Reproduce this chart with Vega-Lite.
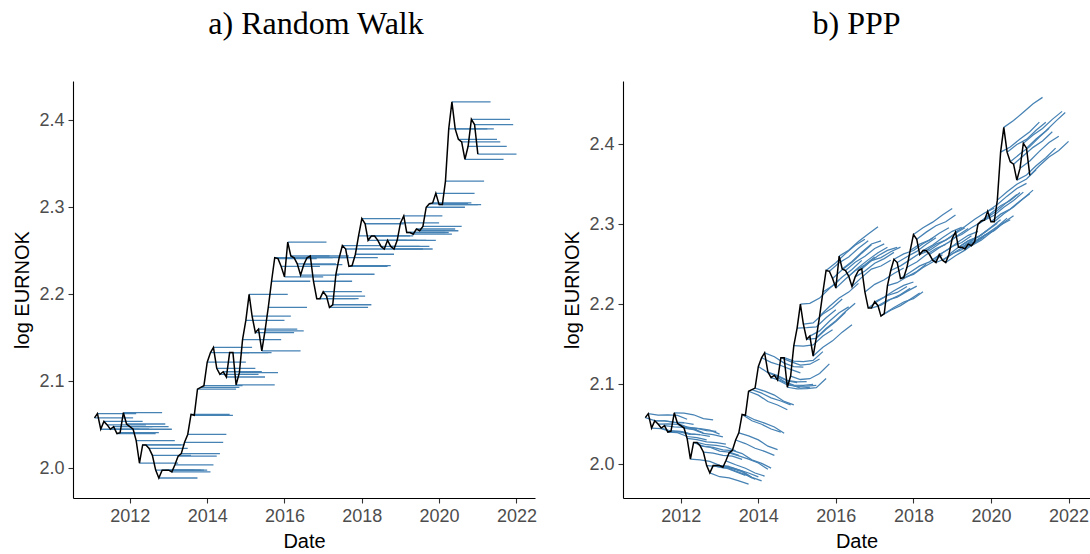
{
  "$schema": "https://vega.github.io/schema/vega-lite/v6.json",
  "background": "white",
  "padding": {"left": 12, "top": 8, "right": 0, "bottom": 0},
  "spacing": 25,
  "config": {
    "view": {"stroke": null},
    "axis": {
      "grid": false,
      "domainColor": "black",
      "domainWidth": 1.1,
      "tickColor": "#333333",
      "tickWidth": 1.1,
      "tickSize": 5,
      "labelColor": "#4D4D4D",
      "labelFont": "Liberation Sans",
      "labelFontSize": 18,
      "labelPadding": 4,
      "titleFont": "Liberation Sans",
      "titleFontSize": 20,
      "titleFontWeight": "normal",
      "titleColor": "black"
    },
    "title": {"font": "Liberation Serif", "fontSize": 32, "fontWeight": "normal", "color": "black", "frame": "group", "baseline": "alphabetic"}
  },
  "datasets": {
    "obs": [
      {"d":"2011-02","e":"2012-02","v":2.058},{"d":"2011-03","e":"2012-03","v":2.063},{"d":"2011-04","e":"2012-04","v":2.045},
      {"d":"2011-05","e":"2012-05","v":2.054},{"d":"2011-06","e":"2012-06","v":2.050},{"d":"2011-07","e":"2012-07","v":2.045},
      {"d":"2011-08","e":"2012-08","v":2.048},{"d":"2011-09","e":"2012-09","v":2.040},{"d":"2011-10","e":"2012-10","v":2.041},
      {"d":"2011-11","e":"2012-11","v":2.064},{"d":"2011-12","e":"2012-12","v":2.051},{"d":"2012-01","e":"2013-01","v":2.048},
      {"d":"2012-02","e":"2013-02","v":2.045},{"d":"2012-03","e":"2013-03","v":2.032},{"d":"2012-04","e":"2013-04","v":2.006},
      {"d":"2012-05","e":"2013-05","v":2.027},{"d":"2012-06","e":"2013-06","v":2.027},{"d":"2012-07","e":"2013-07","v":2.023},
      {"d":"2012-08","e":"2013-08","v":2.015},{"d":"2012-09","e":"2013-09","v":1.998},{"d":"2012-10","e":"2013-10","v":1.989},
      {"d":"2012-11","e":"2013-11","v":1.998},{"d":"2012-12","e":"2013-12","v":1.998},{"d":"2013-01","e":"2014-01","v":1.998},
      {"d":"2013-02","e":"2014-02","v":1.996},{"d":"2013-03","e":"2014-03","v":2.004},{"d":"2013-04","e":"2014-04","v":2.014},
      {"d":"2013-05","e":"2014-05","v":2.017},{"d":"2013-06","e":"2014-06","v":2.030},{"d":"2013-07","e":"2014-07","v":2.039},
      {"d":"2013-08","e":"2014-08","v":2.062},{"d":"2013-09","e":"2014-09","v":2.061},{"d":"2013-10","e":"2014-10","v":2.091},
      {"d":"2013-11","e":"2014-11","v":2.093},{"d":"2013-12","e":"2014-12","v":2.095},{"d":"2014-01","e":"2015-01","v":2.122},
      {"d":"2014-02","e":"2015-02","v":2.133},{"d":"2014-03","e":"2015-03","v":2.139},{"d":"2014-04","e":"2015-04","v":2.115},
      {"d":"2014-05","e":"2015-05","v":2.108},{"d":"2014-06","e":"2015-06","v":2.111},{"d":"2014-07","e":"2015-07","v":2.105},
      {"d":"2014-08","e":"2015-08","v":2.133},{"d":"2014-09","e":"2015-09","v":2.133},{"d":"2014-10","e":"2015-10","v":2.096},
      {"d":"2014-11","e":"2015-11","v":2.110},{"d":"2014-12","e":"2015-12","v":2.148},{"d":"2015-01","e":"2016-01","v":2.170},
      {"d":"2015-02","e":"2016-02","v":2.200},{"d":"2015-03","e":"2016-03","v":2.175},{"d":"2015-04","e":"2016-04","v":2.156},
      {"d":"2015-05","e":"2016-05","v":2.160},{"d":"2015-06","e":"2016-06","v":2.135},{"d":"2015-07","e":"2016-07","v":2.158},
      {"d":"2015-08","e":"2016-08","v":2.185},{"d":"2015-09","e":"2016-09","v":2.215},{"d":"2015-10","e":"2016-10","v":2.242},
      {"d":"2015-11","e":"2016-11","v":2.241},{"d":"2015-12","e":"2016-12","v":2.232},{"d":"2016-01","e":"2017-01","v":2.220},
      {"d":"2016-02","e":"2017-02","v":2.260},{"d":"2016-03","e":"2017-03","v":2.244},{"d":"2016-04","e":"2017-04","v":2.242},
      {"d":"2016-05","e":"2017-05","v":2.235},{"d":"2016-06","e":"2017-06","v":2.222},{"d":"2016-07","e":"2017-07","v":2.234},
      {"d":"2016-08","e":"2017-08","v":2.242},{"d":"2016-09","e":"2017-09","v":2.244},{"d":"2016-10","e":"2017-10","v":2.215},
      {"d":"2016-11","e":"2017-11","v":2.195},{"d":"2016-12","e":"2017-12","v":2.195},{"d":"2017-01","e":"2018-01","v":2.203},
      {"d":"2017-02","e":"2018-02","v":2.198},{"d":"2017-03","e":"2018-03","v":2.185},{"d":"2017-04","e":"2018-04","v":2.188},
      {"d":"2017-05","e":"2018-05","v":2.223},{"d":"2017-06","e":"2018-06","v":2.242},{"d":"2017-07","e":"2018-07","v":2.256},
      {"d":"2017-08","e":"2018-08","v":2.252},{"d":"2017-09","e":"2018-09","v":2.232},{"d":"2017-10","e":"2018-10","v":2.233},
      {"d":"2017-11","e":"2018-11","v":2.246},{"d":"2017-12","e":"2018-12","v":2.267},{"d":"2018-01","e":"2019-01","v":2.287},
      {"d":"2018-02","e":"2019-02","v":2.281},{"d":"2018-03","e":"2019-03","v":2.262},{"d":"2018-04","e":"2019-04","v":2.267},
      {"d":"2018-05","e":"2019-05","v":2.267},{"d":"2018-06","e":"2019-06","v":2.262},{"d":"2018-07","e":"2019-07","v":2.255},
      {"d":"2018-08","e":"2019-08","v":2.252},{"d":"2018-09","e":"2019-09","v":2.262},{"d":"2018-10","e":"2019-10","v":2.255},
      {"d":"2018-11","e":"2019-11","v":2.252},{"d":"2018-12","e":"2019-12","v":2.262},{"d":"2019-01","e":"2020-01","v":2.282},
      {"d":"2019-02","e":"2020-02","v":2.290},{"d":"2019-03","e":"2020-03","v":2.271},{"d":"2019-04","e":"2020-04","v":2.271},
      {"d":"2019-05","e":"2020-05","v":2.269},{"d":"2019-06","e":"2020-06","v":2.275},{"d":"2019-07","e":"2020-07","v":2.273},
      {"d":"2019-08","e":"2020-08","v":2.278},{"d":"2019-09","e":"2020-09","v":2.300},{"d":"2019-10","e":"2020-10","v":2.304},
      {"d":"2019-11","e":"2020-11","v":2.305},{"d":"2019-12","e":"2020-12","v":2.316},{"d":"2020-01","e":"2021-01","v":2.303},
      {"d":"2020-02","e":"2021-02","v":2.303},{"d":"2020-03","e":"2021-03","v":2.330},{"d":"2020-04","e":"2021-04","v":2.390},
      {"d":"2020-05","e":"2021-05","v":2.421},{"d":"2020-06","e":"2021-06","v":2.390},{"d":"2020-07","e":"2021-07","v":2.378},
      {"d":"2020-08","e":"2021-08","v":2.375},{"d":"2020-09","e":"2021-09","v":2.355},{"d":"2020-10","e":"2021-10","v":2.370},
      {"d":"2020-11","e":"2021-11","v":2.401},{"d":"2020-12","e":"2021-12","v":2.395},{"d":"2021-01","e":"2022-01","v":2.361}
    ],
    "ppp": [
      {"o":1,"d":"2011-02","v":2.0580},{"o":1,"d":"2011-05","v":2.0543},{"o":1,"d":"2011-08","v":2.0541},{"o":1,"d":"2011-11","v":2.0524},{"o":1,"d":"2012-02","v":2.0519},
      {"o":2,"d":"2011-03","v":2.0630},{"o":2,"d":"2011-06","v":2.0613},{"o":2,"d":"2011-09","v":2.0616},{"o":2,"d":"2011-12","v":2.0609},{"o":2,"d":"2012-03","v":2.0560},
      {"o":3,"d":"2011-04","v":2.0450},{"o":3,"d":"2011-07","v":2.0443},{"o":3,"d":"2011-10","v":2.0406},{"o":3,"d":"2012-01","v":2.0400},{"o":3,"d":"2012-04","v":2.0371},
      {"o":4,"d":"2011-05","v":2.0540},{"o":4,"d":"2011-08","v":2.0538},{"o":4,"d":"2011-11","v":2.0521},{"o":4,"d":"2012-02","v":2.0516},{"o":4,"d":"2012-05","v":2.0497},
      {"o":5,"d":"2011-06","v":2.0500},{"o":5,"d":"2011-09","v":2.0503},{"o":5,"d":"2011-12","v":2.0496},{"o":5,"d":"2012-03","v":2.0447},{"o":5,"d":"2012-06","v":2.0433},
      {"o":6,"d":"2011-07","v":2.0450},{"o":6,"d":"2011-10","v":2.0413},{"o":6,"d":"2012-01","v":2.0407},{"o":6,"d":"2012-04","v":2.0378},{"o":6,"d":"2012-07","v":2.0369},
      {"o":7,"d":"2011-08","v":2.0480},{"o":7,"d":"2011-11","v":2.0463},{"o":7,"d":"2012-02","v":2.0458},{"o":7,"d":"2012-05","v":2.0439},{"o":7,"d":"2012-08","v":2.0390},
      {"o":8,"d":"2011-09","v":2.0400},{"o":8,"d":"2011-12","v":2.0393},{"o":8,"d":"2012-03","v":2.0344},{"o":8,"d":"2012-06","v":2.0330},{"o":8,"d":"2012-09","v":2.0301},
      {"o":9,"d":"2011-10","v":2.0410},{"o":9,"d":"2012-01","v":2.0404},{"o":9,"d":"2012-04","v":2.0375},{"o":9,"d":"2012-07","v":2.0366},{"o":9,"d":"2012-10","v":2.0347},
      {"o":10,"d":"2011-11","v":2.0640},{"o":10,"d":"2012-02","v":2.0635},{"o":10,"d":"2012-05","v":2.0616},{"o":10,"d":"2012-08","v":2.0567},{"o":10,"d":"2012-11","v":2.0553},
      {"o":11,"d":"2011-12","v":2.0510},{"o":11,"d":"2012-03","v":2.0461},{"o":11,"d":"2012-06","v":2.0447},{"o":11,"d":"2012-09","v":2.0418},{"o":11,"d":"2012-12","v":2.0409},
      {"o":12,"d":"2012-01","v":2.0480},{"o":12,"d":"2012-04","v":2.0451},{"o":12,"d":"2012-07","v":2.0442},{"o":12,"d":"2012-10","v":2.0423},{"o":12,"d":"2013-01","v":2.0374},
      {"o":13,"d":"2012-02","v":2.0450},{"o":13,"d":"2012-05","v":2.0431},{"o":13,"d":"2012-08","v":2.0382},{"o":13,"d":"2012-11","v":2.0368},{"o":13,"d":"2013-02","v":2.0339},
      {"o":14,"d":"2012-03","v":2.0320},{"o":14,"d":"2012-06","v":2.0306},{"o":14,"d":"2012-09","v":2.0277},{"o":14,"d":"2012-12","v":2.0268},{"o":14,"d":"2013-03","v":2.0249},
      {"o":15,"d":"2012-04","v":2.0060},{"o":15,"d":"2012-07","v":2.0051},{"o":15,"d":"2012-10","v":2.0032},{"o":15,"d":"2013-01","v":1.9983},{"o":15,"d":"2013-04","v":1.9969},
      {"o":16,"d":"2012-05","v":2.0270},{"o":16,"d":"2012-08","v":2.0221},{"o":16,"d":"2012-11","v":2.0207},{"o":16,"d":"2013-02","v":2.0178},{"o":16,"d":"2013-05","v":2.0169},
      {"o":17,"d":"2012-06","v":2.0270},{"o":17,"d":"2012-09","v":2.0241},{"o":17,"d":"2012-12","v":2.0232},{"o":17,"d":"2013-03","v":2.0213},{"o":17,"d":"2013-06","v":2.0164},
      {"o":18,"d":"2012-07","v":2.0230},{"o":18,"d":"2012-10","v":2.0211},{"o":18,"d":"2013-01","v":2.0162},{"o":18,"d":"2013-04","v":2.0148},{"o":18,"d":"2013-07","v":2.0109},
      {"o":19,"d":"2012-08","v":2.0150},{"o":19,"d":"2012-11","v":2.0136},{"o":19,"d":"2013-02","v":2.0107},{"o":19,"d":"2013-05","v":2.0098},{"o":19,"d":"2013-08","v":2.0059},
      {"o":20,"d":"2012-09","v":1.9980},{"o":20,"d":"2012-12","v":1.9971},{"o":20,"d":"2013-03","v":1.9952},{"o":20,"d":"2013-06","v":1.9903},{"o":20,"d":"2013-09","v":1.9859},
      {"o":21,"d":"2012-10","v":1.9890},{"o":21,"d":"2013-01","v":1.9841},{"o":21,"d":"2013-04","v":1.9827},{"o":21,"d":"2013-07","v":1.9788},{"o":21,"d":"2013-10","v":1.9749},
      {"o":22,"d":"2012-11","v":1.9980},{"o":22,"d":"2013-02","v":1.9951},{"o":22,"d":"2013-05","v":1.9942},{"o":22,"d":"2013-08","v":1.9903},{"o":22,"d":"2013-11","v":1.9824},
      {"o":23,"d":"2012-12","v":1.9980},{"o":23,"d":"2013-03","v":1.9961},{"o":23,"d":"2013-06","v":1.9912},{"o":23,"d":"2013-09","v":1.9868},{"o":23,"d":"2013-12","v":1.9809},
      {"o":24,"d":"2013-01","v":1.9980},{"o":24,"d":"2013-04","v":1.9966},{"o":24,"d":"2013-07","v":1.9927},{"o":24,"d":"2013-10","v":1.9888},{"o":24,"d":"2014-01","v":1.9839},
      {"o":25,"d":"2013-02","v":1.9960},{"o":25,"d":"2013-05","v":1.9951},{"o":25,"d":"2013-08","v":1.9912},{"o":25,"d":"2013-11","v":1.9833},{"o":25,"d":"2014-02","v":1.9789},
      {"o":26,"d":"2013-03","v":2.0040},{"o":26,"d":"2013-06","v":1.9991},{"o":26,"d":"2013-09","v":1.9947},{"o":26,"d":"2013-12","v":1.9888},{"o":26,"d":"2014-03","v":1.9849},
      {"o":27,"d":"2013-04","v":2.0140},{"o":27,"d":"2013-07","v":2.0101},{"o":27,"d":"2013-10","v":2.0062},{"o":27,"d":"2014-01","v":2.0013},{"o":27,"d":"2014-04","v":1.9934},
      {"o":28,"d":"2013-05","v":2.0170},{"o":28,"d":"2013-08","v":2.0131},{"o":28,"d":"2013-11","v":2.0052},{"o":28,"d":"2014-02","v":2.0008},{"o":28,"d":"2014-05","v":1.9949},
      {"o":29,"d":"2013-06","v":2.0300},{"o":29,"d":"2013-09","v":2.0256},{"o":29,"d":"2013-12","v":2.0197},{"o":29,"d":"2014-03","v":2.0158},{"o":29,"d":"2014-06","v":2.0109},
      {"o":30,"d":"2013-07","v":2.0390},{"o":30,"d":"2013-10","v":2.0351},{"o":30,"d":"2014-01","v":2.0302},{"o":30,"d":"2014-04","v":2.0223},{"o":30,"d":"2014-07","v":2.0179},
      {"o":31,"d":"2013-08","v":2.0620},{"o":31,"d":"2013-11","v":2.0541},{"o":31,"d":"2014-02","v":2.0497},{"o":31,"d":"2014-05","v":2.0438},{"o":31,"d":"2014-08","v":2.0399},
      {"o":32,"d":"2013-09","v":2.0610},{"o":32,"d":"2013-12","v":2.0551},{"o":32,"d":"2014-03","v":2.0512},{"o":32,"d":"2014-06","v":2.0463},{"o":32,"d":"2014-09","v":2.0384},
      {"o":33,"d":"2013-10","v":2.0910},{"o":33,"d":"2014-01","v":2.0861},{"o":33,"d":"2014-04","v":2.0782},{"o":33,"d":"2014-07","v":2.0738},{"o":33,"d":"2014-10","v":2.0679},
      {"o":34,"d":"2013-11","v":2.0930},{"o":34,"d":"2014-02","v":2.0886},{"o":34,"d":"2014-05","v":2.0827},{"o":34,"d":"2014-08","v":2.0788},{"o":34,"d":"2014-11","v":2.0739},
      {"o":35,"d":"2013-12","v":2.0950},{"o":35,"d":"2014-03","v":2.0911},{"o":35,"d":"2014-06","v":2.0862},{"o":35,"d":"2014-09","v":2.0783},{"o":35,"d":"2014-12","v":2.0739},
      {"o":36,"d":"2014-01","v":2.1220},{"o":36,"d":"2014-04","v":2.1141},{"o":36,"d":"2014-07","v":2.1097},{"o":36,"d":"2014-10","v":2.1038},{"o":36,"d":"2015-01","v":2.1017},
      {"o":37,"d":"2014-02","v":2.1330},{"o":37,"d":"2014-05","v":2.1271},{"o":37,"d":"2014-08","v":2.1232},{"o":37,"d":"2014-11","v":2.1183},{"o":37,"d":"2015-02","v":2.1140},
      {"o":38,"d":"2014-03","v":2.1390},{"o":38,"d":"2014-06","v":2.1341},{"o":38,"d":"2014-09","v":2.1262},{"o":38,"d":"2014-12","v":2.1218},{"o":38,"d":"2015-03","v":2.1213},
      {"o":39,"d":"2014-04","v":2.1150},{"o":39,"d":"2014-07","v":2.1106},{"o":39,"d":"2014-10","v":2.1047},{"o":39,"d":"2015-01","v":2.1026},{"o":39,"d":"2015-04","v":2.1031},
      {"o":40,"d":"2014-05","v":2.1080},{"o":40,"d":"2014-08","v":2.1041},{"o":40,"d":"2014-11","v":2.0992},{"o":40,"d":"2015-02","v":2.0949},{"o":40,"d":"2015-05","v":2.0959},
      {"o":41,"d":"2014-06","v":2.1110},{"o":41,"d":"2014-09","v":2.1031},{"o":41,"d":"2014-12","v":2.0987},{"o":41,"d":"2015-03","v":2.0982},{"o":41,"d":"2015-06","v":2.0997},
      {"o":42,"d":"2014-07","v":2.1050},{"o":42,"d":"2014-10","v":2.0991},{"o":42,"d":"2015-01","v":2.0970},{"o":42,"d":"2015-04","v":2.0975},{"o":42,"d":"2015-07","v":2.0985},
      {"o":43,"d":"2014-08","v":2.1330},{"o":43,"d":"2014-11","v":2.1281},{"o":43,"d":"2015-02","v":2.1238},{"o":43,"d":"2015-05","v":2.1248},{"o":43,"d":"2015-08","v":2.1313},
      {"o":44,"d":"2014-09","v":2.1330},{"o":44,"d":"2014-12","v":2.1286},{"o":44,"d":"2015-03","v":2.1281},{"o":44,"d":"2015-06","v":2.1296},{"o":44,"d":"2015-09","v":2.1406},
      {"o":45,"d":"2014-10","v":2.0960},{"o":45,"d":"2015-01","v":2.0939},{"o":45,"d":"2015-04","v":2.0944},{"o":45,"d":"2015-07","v":2.0954},{"o":45,"d":"2015-10","v":2.1069},
      {"o":46,"d":"2014-11","v":2.1100},{"o":46,"d":"2015-02","v":2.1057},{"o":46,"d":"2015-05","v":2.1067},{"o":46,"d":"2015-08","v":2.1132},{"o":46,"d":"2015-11","v":2.1252},
      {"o":47,"d":"2014-12","v":2.1480},{"o":47,"d":"2015-03","v":2.1475},{"o":47,"d":"2015-06","v":2.1490},{"o":47,"d":"2015-09","v":2.1600},{"o":47,"d":"2015-12","v":2.1680},
      {"o":48,"d":"2015-01","v":2.1700},{"o":48,"d":"2015-04","v":2.1705},{"o":48,"d":"2015-07","v":2.1715},{"o":48,"d":"2015-10","v":2.1830},{"o":48,"d":"2016-01","v":2.1928},
      {"o":49,"d":"2015-02","v":2.2000},{"o":49,"d":"2015-05","v":2.2010},{"o":49,"d":"2015-08","v":2.2075},{"o":49,"d":"2015-11","v":2.2195},{"o":49,"d":"2016-02","v":2.2301},
      {"o":50,"d":"2015-03","v":2.1750},{"o":50,"d":"2015-06","v":2.1765},{"o":50,"d":"2015-09","v":2.1875},{"o":50,"d":"2015-12","v":2.1955},{"o":50,"d":"2016-03","v":2.2064},
      {"o":51,"d":"2015-04","v":2.1560},{"o":51,"d":"2015-07","v":2.1570},{"o":51,"d":"2015-10","v":2.1685},{"o":51,"d":"2016-01","v":2.1783},{"o":51,"d":"2016-04","v":2.1897},
      {"o":52,"d":"2015-05","v":2.1600},{"o":52,"d":"2015-08","v":2.1665},{"o":52,"d":"2015-11","v":2.1785},{"o":52,"d":"2016-02","v":2.1891},{"o":52,"d":"2016-05","v":2.1965},
      {"o":53,"d":"2015-06","v":2.1350},{"o":53,"d":"2015-09","v":2.1460},{"o":53,"d":"2015-12","v":2.1540},{"o":53,"d":"2016-03","v":2.1649},{"o":53,"d":"2016-06","v":2.1743},
      {"o":54,"d":"2015-07","v":2.1580},{"o":54,"d":"2015-10","v":2.1695},{"o":54,"d":"2016-01","v":2.1793},{"o":54,"d":"2016-04","v":2.1907},{"o":54,"d":"2016-07","v":2.2011},
      {"o":55,"d":"2015-08","v":2.1850},{"o":55,"d":"2015-11","v":2.1970},{"o":55,"d":"2016-02","v":2.2076},{"o":55,"d":"2016-05","v":2.2150},{"o":55,"d":"2016-08","v":2.2259},
      {"o":56,"d":"2015-09","v":2.2150},{"o":56,"d":"2015-12","v":2.2230},{"o":56,"d":"2016-03","v":2.2339},{"o":56,"d":"2016-06","v":2.2433},{"o":56,"d":"2016-09","v":2.2547},
      {"o":57,"d":"2015-10","v":2.2420},{"o":57,"d":"2016-01","v":2.2518},{"o":57,"d":"2016-04","v":2.2632},{"o":57,"d":"2016-07","v":2.2736},{"o":57,"d":"2016-10","v":2.2810},
      {"o":58,"d":"2015-11","v":2.2410},{"o":58,"d":"2016-02","v":2.2516},{"o":58,"d":"2016-05","v":2.2590},{"o":58,"d":"2016-08","v":2.2699},{"o":58,"d":"2016-11","v":2.2793},
      {"o":59,"d":"2015-12","v":2.2320},{"o":59,"d":"2016-03","v":2.2429},{"o":59,"d":"2016-06","v":2.2523},{"o":59,"d":"2016-09","v":2.2637},{"o":59,"d":"2016-12","v":2.2741},
      {"o":60,"d":"2016-01","v":2.2200},{"o":60,"d":"2016-04","v":2.2314},{"o":60,"d":"2016-07","v":2.2418},{"o":60,"d":"2016-10","v":2.2492},{"o":60,"d":"2017-01","v":2.2589},
      {"o":61,"d":"2016-02","v":2.2600},{"o":61,"d":"2016-05","v":2.2674},{"o":61,"d":"2016-08","v":2.2783},{"o":61,"d":"2016-11","v":2.2877},{"o":61,"d":"2017-02","v":2.2967},
      {"o":62,"d":"2016-03","v":2.2440},{"o":62,"d":"2016-06","v":2.2534},{"o":62,"d":"2016-09","v":2.2648},{"o":62,"d":"2016-12","v":2.2752},{"o":62,"d":"2017-03","v":2.2790},
      {"o":63,"d":"2016-04","v":2.2420},{"o":63,"d":"2016-07","v":2.2524},{"o":63,"d":"2016-10","v":2.2598},{"o":63,"d":"2017-01","v":2.2695},{"o":63,"d":"2017-04","v":2.2753},
      {"o":64,"d":"2016-05","v":2.2350},{"o":64,"d":"2016-08","v":2.2459},{"o":64,"d":"2016-11","v":2.2553},{"o":64,"d":"2017-02","v":2.2643},{"o":64,"d":"2017-05","v":2.2711},
      {"o":65,"d":"2016-06","v":2.2220},{"o":65,"d":"2016-09","v":2.2334},{"o":65,"d":"2016-12","v":2.2438},{"o":65,"d":"2017-03","v":2.2476},{"o":65,"d":"2017-06","v":2.2549},
      {"o":66,"d":"2016-07","v":2.2340},{"o":66,"d":"2016-10","v":2.2414},{"o":66,"d":"2017-01","v":2.2511},{"o":66,"d":"2017-04","v":2.2569},{"o":66,"d":"2017-07","v":2.2647},
      {"o":67,"d":"2016-08","v":2.2420},{"o":67,"d":"2016-11","v":2.2514},{"o":67,"d":"2017-02","v":2.2604},{"o":67,"d":"2017-05","v":2.2672},{"o":67,"d":"2017-08","v":2.2710},
      {"o":68,"d":"2016-09","v":2.2440},{"o":68,"d":"2016-12","v":2.2544},{"o":68,"d":"2017-03","v":2.2582},{"o":68,"d":"2017-06","v":2.2655},{"o":68,"d":"2017-09","v":2.2713},
      {"o":69,"d":"2016-10","v":2.2150},{"o":69,"d":"2017-01","v":2.2247},{"o":69,"d":"2017-04","v":2.2305},{"o":69,"d":"2017-07","v":2.2383},{"o":69,"d":"2017-10","v":2.2451},
      {"o":70,"d":"2016-11","v":2.1950},{"o":70,"d":"2017-02","v":2.2040},{"o":70,"d":"2017-05","v":2.2108},{"o":70,"d":"2017-08","v":2.2146},{"o":70,"d":"2017-11","v":2.2219},
      {"o":71,"d":"2016-12","v":2.1950},{"o":71,"d":"2017-03","v":2.1988},{"o":71,"d":"2017-06","v":2.2061},{"o":71,"d":"2017-09","v":2.2119},{"o":71,"d":"2017-12","v":2.2197},
      {"o":72,"d":"2017-01","v":2.2030},{"o":72,"d":"2017-04","v":2.2088},{"o":72,"d":"2017-07","v":2.2166},{"o":72,"d":"2017-10","v":2.2234},{"o":72,"d":"2018-01","v":2.2276},
      {"o":73,"d":"2017-02","v":2.1980},{"o":73,"d":"2017-05","v":2.2048},{"o":73,"d":"2017-08","v":2.2086},{"o":73,"d":"2017-11","v":2.2159},{"o":73,"d":"2018-02","v":2.2225},
      {"o":74,"d":"2017-03","v":2.1850},{"o":74,"d":"2017-06","v":2.1923},{"o":74,"d":"2017-09","v":2.1981},{"o":74,"d":"2017-12","v":2.2059},{"o":74,"d":"2018-03","v":2.2139},
      {"o":75,"d":"2017-04","v":2.1880},{"o":75,"d":"2017-07","v":2.1958},{"o":75,"d":"2017-10","v":2.2026},{"o":75,"d":"2018-01","v":2.2068},{"o":75,"d":"2018-04","v":2.2153},
      {"o":76,"d":"2017-05","v":2.2230},{"o":76,"d":"2017-08","v":2.2268},{"o":76,"d":"2017-11","v":2.2341},{"o":76,"d":"2018-02","v":2.2407},{"o":76,"d":"2018-05","v":2.2497},
      {"o":77,"d":"2017-06","v":2.2420},{"o":77,"d":"2017-09","v":2.2478},{"o":77,"d":"2017-12","v":2.2556},{"o":77,"d":"2018-03","v":2.2636},{"o":77,"d":"2018-06","v":2.2686},
      {"o":78,"d":"2017-07","v":2.2560},{"o":78,"d":"2017-10","v":2.2628},{"o":78,"d":"2018-01","v":2.2670},{"o":78,"d":"2018-04","v":2.2755},{"o":78,"d":"2018-07","v":2.2825},
      {"o":79,"d":"2017-08","v":2.2520},{"o":79,"d":"2017-11","v":2.2593},{"o":79,"d":"2018-02","v":2.2659},{"o":79,"d":"2018-05","v":2.2749},{"o":79,"d":"2018-08","v":2.2829},
      {"o":80,"d":"2017-09","v":2.2320},{"o":80,"d":"2017-12","v":2.2398},{"o":80,"d":"2018-03","v":2.2478},{"o":80,"d":"2018-06","v":2.2528},{"o":80,"d":"2018-09","v":2.2613},
      {"o":81,"d":"2017-10","v":2.2330},{"o":81,"d":"2018-01","v":2.2372},{"o":81,"d":"2018-04","v":2.2457},{"o":81,"d":"2018-07","v":2.2527},{"o":81,"d":"2018-10","v":2.2617},
      {"o":82,"d":"2017-11","v":2.2460},{"o":82,"d":"2018-02","v":2.2526},{"o":82,"d":"2018-05","v":2.2616},{"o":82,"d":"2018-08","v":2.2696},{"o":82,"d":"2018-11","v":2.2746},
      {"o":83,"d":"2017-12","v":2.2670},{"o":83,"d":"2018-03","v":2.2750},{"o":83,"d":"2018-06","v":2.2800},{"o":83,"d":"2018-09","v":2.2885},{"o":83,"d":"2018-12","v":2.2955},
      {"o":84,"d":"2018-01","v":2.2870},{"o":84,"d":"2018-04","v":2.2955},{"o":84,"d":"2018-07","v":2.3025},{"o":84,"d":"2018-10","v":2.3115},{"o":84,"d":"2019-01","v":2.3195},
      {"o":85,"d":"2018-02","v":2.2810},{"o":85,"d":"2018-05","v":2.2900},{"o":85,"d":"2018-08","v":2.2980},{"o":85,"d":"2018-11","v":2.3030},{"o":85,"d":"2019-02","v":2.3115},
      {"o":86,"d":"2018-03","v":2.2620},{"o":86,"d":"2018-06","v":2.2670},{"o":86,"d":"2018-09","v":2.2755},{"o":86,"d":"2018-12","v":2.2825},{"o":86,"d":"2019-03","v":2.2915},
      {"o":87,"d":"2018-04","v":2.2670},{"o":87,"d":"2018-07","v":2.2740},{"o":87,"d":"2018-10","v":2.2830},{"o":87,"d":"2019-01","v":2.2910},{"o":87,"d":"2019-04","v":2.2960},
      {"o":88,"d":"2018-05","v":2.2670},{"o":88,"d":"2018-08","v":2.2750},{"o":88,"d":"2018-11","v":2.2800},{"o":88,"d":"2019-02","v":2.2885},{"o":88,"d":"2019-05","v":2.2955},
      {"o":89,"d":"2018-06","v":2.2620},{"o":89,"d":"2018-09","v":2.2705},{"o":89,"d":"2018-12","v":2.2775},{"o":89,"d":"2019-03","v":2.2865},{"o":89,"d":"2019-06","v":2.2945},
      {"o":90,"d":"2018-07","v":2.2550},{"o":90,"d":"2018-10","v":2.2640},{"o":90,"d":"2019-01","v":2.2720},{"o":90,"d":"2019-04","v":2.2770},{"o":90,"d":"2019-07","v":2.2855},
      {"o":91,"d":"2018-08","v":2.2520},{"o":91,"d":"2018-11","v":2.2570},{"o":91,"d":"2019-02","v":2.2655},{"o":91,"d":"2019-05","v":2.2725},{"o":91,"d":"2019-08","v":2.2815},
      {"o":92,"d":"2018-09","v":2.2620},{"o":92,"d":"2018-12","v":2.2690},{"o":92,"d":"2019-03","v":2.2780},{"o":92,"d":"2019-06","v":2.2860},{"o":92,"d":"2019-09","v":2.2910},
      {"o":93,"d":"2018-10","v":2.2550},{"o":93,"d":"2019-01","v":2.2630},{"o":93,"d":"2019-04","v":2.2680},{"o":93,"d":"2019-07","v":2.2765},{"o":93,"d":"2019-10","v":2.2835},
      {"o":94,"d":"2018-11","v":2.2520},{"o":94,"d":"2019-02","v":2.2605},{"o":94,"d":"2019-05","v":2.2675},{"o":94,"d":"2019-08","v":2.2765},{"o":94,"d":"2019-11","v":2.2845},
      {"o":95,"d":"2018-12","v":2.2620},{"o":95,"d":"2019-03","v":2.2710},{"o":95,"d":"2019-06","v":2.2790},{"o":95,"d":"2019-09","v":2.2840},{"o":95,"d":"2019-12","v":2.2925},
      {"o":96,"d":"2019-01","v":2.2820},{"o":96,"d":"2019-04","v":2.2870},{"o":96,"d":"2019-07","v":2.2955},{"o":96,"d":"2019-10","v":2.3025},{"o":96,"d":"2020-01","v":2.3120},
      {"o":97,"d":"2019-02","v":2.2900},{"o":97,"d":"2019-05","v":2.2970},{"o":97,"d":"2019-08","v":2.3060},{"o":97,"d":"2019-11","v":2.3140},{"o":97,"d":"2020-02","v":2.3200},
      {"o":98,"d":"2019-03","v":2.2710},{"o":98,"d":"2019-06","v":2.2790},{"o":98,"d":"2019-09","v":2.2840},{"o":98,"d":"2019-12","v":2.2925},{"o":98,"d":"2020-03","v":2.3010},
      {"o":99,"d":"2019-04","v":2.2710},{"o":99,"d":"2019-07","v":2.2795},{"o":99,"d":"2019-10","v":2.2865},{"o":99,"d":"2020-01","v":2.2960},{"o":99,"d":"2020-04","v":2.3055},
      {"o":100,"d":"2019-05","v":2.2690},{"o":100,"d":"2019-08","v":2.2780},{"o":100,"d":"2019-11","v":2.2860},{"o":100,"d":"2020-02","v":2.2920},{"o":100,"d":"2020-05","v":2.3020},
      {"o":101,"d":"2019-06","v":2.2750},{"o":101,"d":"2019-09","v":2.2800},{"o":101,"d":"2019-12","v":2.2885},{"o":101,"d":"2020-03","v":2.2970},{"o":101,"d":"2020-06","v":2.3075},
      {"o":102,"d":"2019-07","v":2.2730},{"o":102,"d":"2019-10","v":2.2800},{"o":102,"d":"2020-01","v":2.2895},{"o":102,"d":"2020-04","v":2.2990},{"o":102,"d":"2020-07","v":2.3055},
      {"o":103,"d":"2019-08","v":2.2780},{"o":103,"d":"2019-11","v":2.2860},{"o":103,"d":"2020-02","v":2.2920},{"o":103,"d":"2020-05","v":2.3020},{"o":103,"d":"2020-08","v":2.3105},
      {"o":104,"d":"2019-09","v":2.3000},{"o":104,"d":"2019-12","v":2.3085},{"o":104,"d":"2020-03","v":2.3170},{"o":104,"d":"2020-06","v":2.3275},{"o":104,"d":"2020-09","v":2.3370},
      {"o":105,"d":"2019-10","v":2.3040},{"o":105,"d":"2020-01","v":2.3135},{"o":105,"d":"2020-04","v":2.3230},{"o":105,"d":"2020-07","v":2.3295},{"o":105,"d":"2020-10","v":2.3395},
      {"o":106,"d":"2019-11","v":2.3050},{"o":106,"d":"2020-02","v":2.3110},{"o":106,"d":"2020-05","v":2.3210},{"o":106,"d":"2020-08","v":2.3295},{"o":106,"d":"2020-11","v":2.3400},
      {"o":107,"d":"2019-12","v":2.3160},{"o":107,"d":"2020-03","v":2.3245},{"o":107,"d":"2020-06","v":2.3350},{"o":107,"d":"2020-09","v":2.3445},{"o":107,"d":"2020-12","v":2.3510},
      {"o":108,"d":"2020-01","v":2.3030},{"o":108,"d":"2020-04","v":2.3125},{"o":108,"d":"2020-07","v":2.3190},{"o":108,"d":"2020-10","v":2.3290},{"o":108,"d":"2021-01","v":2.3380},
      {"o":109,"d":"2020-02","v":2.3030},{"o":109,"d":"2020-05","v":2.3130},{"o":109,"d":"2020-08","v":2.3215},{"o":109,"d":"2020-11","v":2.3320},{"o":109,"d":"2021-02","v":2.3425},
      {"o":110,"d":"2020-03","v":2.3300},{"o":110,"d":"2020-06","v":2.3405},{"o":110,"d":"2020-09","v":2.3500},{"o":110,"d":"2020-12","v":2.3565},{"o":110,"d":"2021-03","v":2.3680},
      {"o":111,"d":"2020-04","v":2.3900},{"o":111,"d":"2020-07","v":2.3965},{"o":111,"d":"2020-10","v":2.4065},{"o":111,"d":"2021-01","v":2.4155},{"o":111,"d":"2021-04","v":2.4275},
      {"o":112,"d":"2020-05","v":2.4210},{"o":112,"d":"2020-08","v":2.4295},{"o":112,"d":"2020-11","v":2.4400},{"o":112,"d":"2021-02","v":2.4505},{"o":112,"d":"2021-05","v":2.4585},
      {"o":113,"d":"2020-06","v":2.3900},{"o":113,"d":"2020-09","v":2.3995},{"o":113,"d":"2020-12","v":2.4060},{"o":113,"d":"2021-03","v":2.4175},{"o":113,"d":"2021-06","v":2.4275},
      {"o":114,"d":"2020-07","v":2.3780},{"o":114,"d":"2020-10","v":2.3880},{"o":114,"d":"2021-01","v":2.3970},{"o":114,"d":"2021-04","v":2.4090},{"o":114,"d":"2021-07","v":2.4200},
      {"o":115,"d":"2020-08","v":2.3750},{"o":115,"d":"2020-11","v":2.3855},{"o":115,"d":"2021-02","v":2.3960},{"o":115,"d":"2021-05","v":2.4040},{"o":115,"d":"2021-08","v":2.4155},
      {"o":116,"d":"2020-09","v":2.3550},{"o":116,"d":"2020-12","v":2.3615},{"o":116,"d":"2021-03","v":2.3730},{"o":116,"d":"2021-06","v":2.3830},{"o":116,"d":"2021-09","v":2.3950},
      {"o":117,"d":"2020-10","v":2.3700},{"o":117,"d":"2021-01","v":2.3790},{"o":117,"d":"2021-04","v":2.3910},{"o":117,"d":"2021-07","v":2.4020},{"o":117,"d":"2021-10","v":2.4100},
      {"o":118,"d":"2020-11","v":2.4010},{"o":118,"d":"2021-02","v":2.4115},{"o":118,"d":"2021-05","v":2.4195},{"o":118,"d":"2021-08","v":2.4310},{"o":118,"d":"2021-11","v":2.4410},
      {"o":119,"d":"2020-12","v":2.3950},{"o":119,"d":"2021-03","v":2.4065},{"o":119,"d":"2021-06","v":2.4165},{"o":119,"d":"2021-09","v":2.4285},{"o":119,"d":"2021-12","v":2.4395},
      {"o":120,"d":"2021-01","v":2.3610},{"o":120,"d":"2021-04","v":2.3730},{"o":120,"d":"2021-07","v":2.3840},{"o":120,"d":"2021-10","v":2.3920},{"o":120,"d":"2022-01","v":2.4035}
    ]
  },
  "hconcat": [
    {
      "title": {"text": "a) Random Walk", "dx": 12, "offset": 40},
      "width": 462,
      "height": 417,
      "layer": [
        {
          "data": {"name": "obs", "format": {"parse": {"d": "date", "e": "date"}}},
          "mark": {"type": "rule", "color": "#4682B4", "strokeWidth": 1.3},
          "encoding": {
            "x": {
              "field": "d", "type": "temporal", "title": "Date",
              "scale": {"type": "utc", "domain": [{"year": 2010, "month": 7, "date": 13, "utc": true}, {"year": 2022, "month": 6, "date": 25, "utc": true}]},
              "axis": {"values": [{"year": 2012, "utc": true}, {"year": 2014, "utc": true}, {"year": 2016, "utc": true}, {"year": 2018, "utc": true}, {"year": 2020, "utc": true}, {"year": 2022, "utc": true}], "format": "%Y", "formatType": "utc", "titlePadding": 6}
            },
            "x2": {"field": "e"},
            "y": {
              "field": "v", "type": "quantitative", "title": "log EURNOK",
              "scale": {"domain": [1.966, 2.445], "nice": false, "zero": false},
              "axis": {"values": [2.0, 2.1, 2.2, 2.3, 2.4], "format": ".1f", "titlePadding": 6}
            }
          }
        },
        {
          "data": {"name": "obs", "format": {"parse": {"d": "date", "e": "date"}}},
          "mark": {"type": "line", "color": "black", "strokeWidth": 1.5},
          "encoding": {
            "x": {"field": "d", "type": "temporal"},
            "y": {"field": "v", "type": "quantitative"}
          }
        }
      ]
    },
    {
      "title": {"text": "b) PPP", "offset": 40},
      "width": 467,
      "height": 417,
      "layer": [
        {
          "data": {"name": "ppp", "format": {"parse": {"d": "date"}}},
          "mark": {"type": "line", "color": "#4682B4", "strokeWidth": 1.25},
          "encoding": {
            "x": {
              "field": "d", "type": "temporal", "title": "Date",
              "scale": {"type": "utc", "domain": [{"year": 2010, "month": 7, "date": 6, "utc": true}, {"year": 2022, "month": 7, "date": 22, "utc": true}]},
              "axis": {"values": [{"year": 2012, "utc": true}, {"year": 2014, "utc": true}, {"year": 2016, "utc": true}, {"year": 2018, "utc": true}, {"year": 2020, "utc": true}, {"year": 2022, "utc": true}], "format": "%Y", "formatType": "utc", "titlePadding": 6}
            },
            "y": {
              "field": "v", "type": "quantitative", "title": "log EURNOK",
              "scale": {"domain": [1.9575, 2.479], "nice": false, "zero": false},
              "axis": {"values": [2.0, 2.1, 2.2, 2.3, 2.4], "format": ".1f", "titlePadding": 6}
            },
            "detail": {"field": "o", "type": "nominal"}
          }
        },
        {
          "data": {"name": "obs", "format": {"parse": {"d": "date"}}},
          "mark": {"type": "line", "color": "black", "strokeWidth": 1.5},
          "encoding": {
            "x": {"field": "d", "type": "temporal"},
            "y": {"field": "v", "type": "quantitative"}
          }
        }
      ]
    }
  ]
}
